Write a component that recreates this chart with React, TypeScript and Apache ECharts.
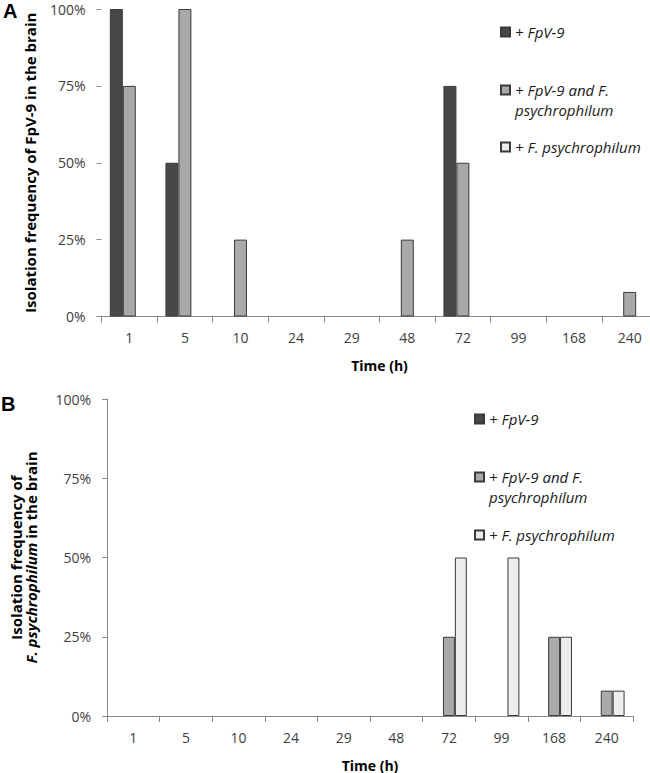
import React, { useEffect, useRef } from 'react';
import * as echarts from 'echarts';

const categories = ['1', '5', '10', '24', '29', '48', '72', '99', '168', '240'];
const seriesNames = ['+ FpV-9', '+ FpV-9 and F. psychrophilum', '+ F. psychrophilum'];
const legendLabels = ['{t|+ FpV-9}', '{s| }\n{t|+ FpV-9 and F.}\n{t|psychrophilum}', '{t|+ F. psychrophilum}'];
// Panel A: isolation frequency of FpV-9 (%)
const aFpv = [100, 50, 0, 0, 0, 0, 75, 0, 0, 0];
const aBoth = [75, 100, 25, 0, 0, 25, 50, 0, 0, 8];
const aFpsy = [0, 0, 0, 0, 0, 0, 0, 0, 0, 0];
// Panel B: isolation frequency of F. psychrophilum (%)
const bFpv = [0, 0, 0, 0, 0, 0, 0, 0, 0, 0];
const bBoth = [0, 0, 0, 0, 0, 0, 25, 0, 25, 8];
const bFpsy = [0, 0, 0, 0, 0, 0, 50, 50, 25, 8];
const yMin = 0;
const yMax = 100;
const yStep = 25;

const colors = ['#484848', '#a9a9a9', '#ededed'];
const FONT = "'Open Sans', 'Noto Sans', sans-serif";

export default function App() {
  const ref = useRef<HTMLDivElement>(null);
  useEffect(() => {
    if (!ref.current) return;
    const chart = echarts.init(ref.current, undefined, { renderer: 'svg' });
    const toData = (arr: number[]) => arr.map((v) => (v === 0 ? '-' : v));
    const panels = [
      [aFpv, aBoth, aFpsy],
      [bFpv, bBoth, bFpsy],
    ];
    const series: any[] = [];
    panels.forEach((p, gi) => {
      p.forEach((arr, si) => {
        series.push({
          type: 'bar',
          name: seriesNames[si],
          xAxisIndex: gi,
          yAxisIndex: gi,
          data: toData(arr),
          barGap: '0%',
          barCategoryGap: gi === 0 ? '30%' : '32%',
          itemStyle: { color: colors[si], borderColor: '#3a3a3a', borderWidth: 1 },
        });
      });
    });
    const xAxisBase = {
      type: 'category',
      data: categories,
      axisLine: { show: true, lineStyle: { color: '#8a8a8a', width: 1 } },
      axisTick: { show: true, length: 6, lineStyle: { color: '#8a8a8a' } },
      axisLabel: { color: '#404040', fontSize: 14, fontFamily: FONT, margin: 14 },
      name: 'Time (h)',
      nameLocation: 'middle',
      nameGap: 42,
      nameTextStyle: { color: '#000', fontWeight: 'bold', fontSize: 14, fontFamily: FONT },
    };
    const yAxisBase = {
      type: 'value',
      min: yMin,
      max: yMax,
      interval: yStep,
      splitLine: { show: false },
      axisTick: { show: true, length: 5, lineStyle: { color: '#8a8a8a' } },
      axisLabel: { color: '#404040', fontSize: 14, fontFamily: FONT, margin: 16, formatter: '{value}%' },
      nameLocation: 'middle',
      nameRotate: 90,
    };
    const legendItem = (si: number, left: number, top: number) => ({
      data: [{ name: seriesNames[si], icon: 'rect' }],
      orient: 'vertical',
      left,
      top,
      padding: 0,
      itemWidth: 9,
      itemHeight: 9,
      formatter: () => legendLabels[si],
      textStyle: {
        fontStyle: 'italic',
        fontSize: 15,
        fontFamily: FONT,
        color: '#1a1a1a',
        lineHeight: 20,
        rich: {
          t: { fontStyle: 'italic', fontSize: 15, fontFamily: FONT, color: '#1a1a1a', lineHeight: 20 },
          s: { fontSize: 15, lineHeight: 20 },
        },
      },
    });
    chart.setOption({
      animation: false,
      backgroundColor: '#fff',
      grid: [
        { left: 101.5, top: 9, width: 556, height: 307.5 },
        { left: 100, top: 399, width: 533, height: 317.5 },
      ],
      xAxis: [
        { ...xAxisBase, gridIndex: 0 },
        { ...xAxisBase, gridIndex: 1 },
      ],
      yAxis: [
        {
          ...yAxisBase,
          gridIndex: 0,
          axisLine: { show: false },
          name: 'Isolation frequency of FpV-9 in the brain',
          nameGap: 64,
          nameTextStyle: { color: '#000', fontWeight: 'bold', fontSize: 15, fontFamily: FONT },
        },
        {
          ...yAxisBase,
          gridIndex: 1,
          axisLine: { show: true, lineStyle: { color: '#8a8a8a', width: 1 } },
          name: '{b|Isolation frequency of}\n{bi|F. psychrophilum}{b| in the brain}',
          nameGap: 69,
          nameTextStyle: {
            color: '#000',
            fontFamily: FONT,
            lineHeight: 15,
            rich: {
              b: { fontWeight: 'bold', fontSize: 15, fontFamily: FONT, color: '#000', lineHeight: 15 },
              bi: { fontWeight: 'bold', fontStyle: 'italic', fontSize: 15, fontFamily: FONT, color: '#000', lineHeight: 15 },
            },
          },
        },
      ],
      legend: [
        legendItem(0, 500, 22),
        legendItem(1, 500, 60),
        legendItem(2, 500, 137),
        legendItem(0, 474, 409),
        legendItem(1, 474, 447),
        legendItem(2, 474, 525),
      ],
      graphic: [
        { type: 'text', left: 3, top: 1, style: { text: 'A', font: 'bold 20px "Liberation Sans", Arial, sans-serif', fill: '#000' } },
        { type: 'text', left: 1, top: 394, style: { text: 'B', font: 'bold 20px "Liberation Sans", Arial, sans-serif', fill: '#000' } },
      ],
      series,
    });
    return () => chart.dispose();
  }, []);
  return (
    <div style={{ position: 'fixed', left: 0, top: 0, width: 650, height: 773, overflow: 'hidden', background: '#fff' }}>
      <div ref={ref} style={{ width: 660, height: 773 }} />
    </div>
  );
}
